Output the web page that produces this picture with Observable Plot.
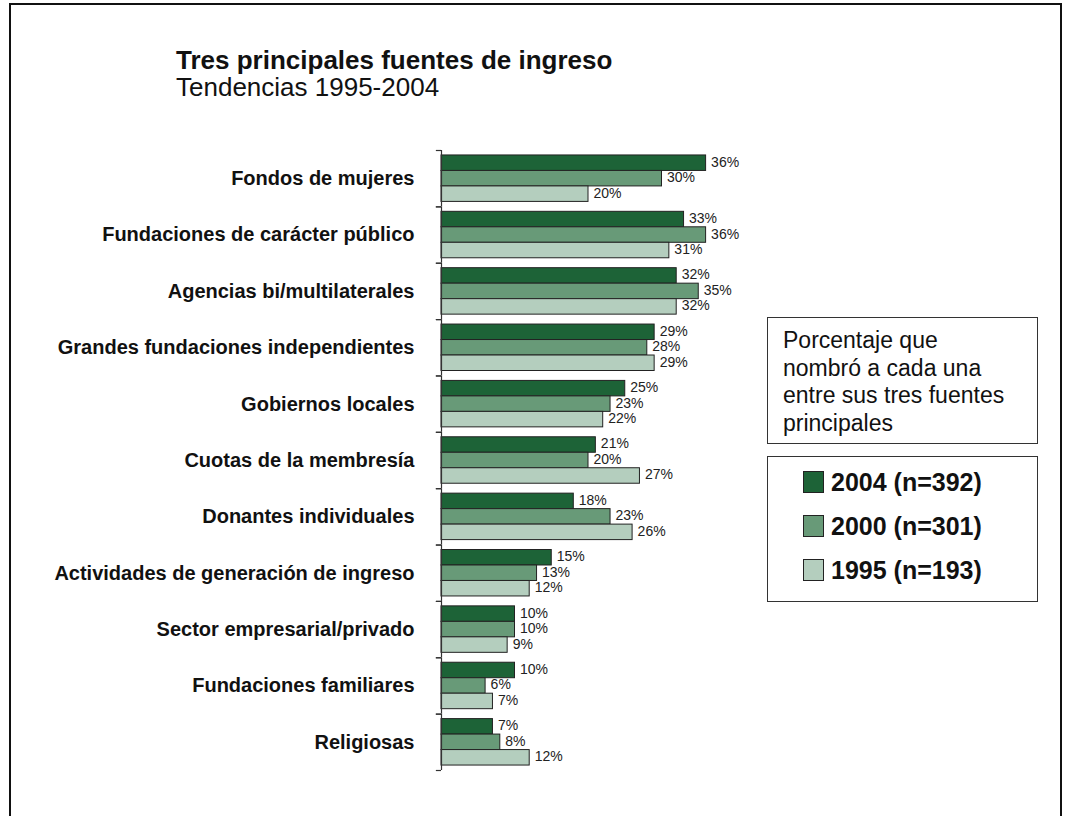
<!DOCTYPE html>
<html>
<head>
<meta charset="utf-8">
<script src="https://cdn.jsdelivr.net/npm/d3@7"></script>
<script src="https://cdn.jsdelivr.net/npm/@observablehq/plot@0.6"></script>
<style>
  body { margin: 0; background: #fff; font-family: "Liberation Sans", Arial, sans-serif; color: #111; }
  #page { position: relative; width: 1068px; height: 816px; overflow: hidden; background: #fff; }
  #frame { position: absolute; left: 9px; top: 3px; width: 1053px; height: 850px; border: 2px solid #111; box-sizing: border-box; }
  #chart { position: absolute; left: 0; top: 0; }
  #title { position: absolute; left: 176px; top: 47px; font-size: 26px; line-height: 27px; white-space: nowrap; }
  #title .t { font-weight: bold; }
  #note { position: absolute; left: 767px; top: 317px; width: 271px; height: 127px; box-sizing: border-box;
          border: 1px solid #333; padding: 9px 0 0 15px; font-size: 23px; line-height: 27.5px; }
  #legend { position: absolute; left: 767px; top: 456px; width: 271px; height: 146px; box-sizing: border-box;
            border: 1px solid #333; padding: 3px 0 0 35px; }
  .row { display: flex; align-items: center; height: 44px; font-size: 25px; font-weight: bold; white-space: nowrap; }
  .sw { width: 19px; height: 20px; border: 1px solid #222; margin-right: 7px; flex: none; }
</style>
</head>
<body>
<div id="page">
  <div id="chart"></div>
  <div id="frame"></div>
  <div id="title"><div class="t">Tres principales fuentes de ingreso</div><div>Tendencias 1995-2004</div></div>
  <div id="note">Porcentaje que<br>nombró a cada una<br>entre sus tres fuentes<br>principales</div>
  <div id="legend"></div>
</div>
<script>
const categories = [
  "Fondos de mujeres",
  "Fundaciones de carácter público",
  "Agencias bi/multilaterales",
  "Grandes fundaciones independientes",
  "Gobiernos locales",
  "Cuotas de la membresía",
  "Donantes individuales",
  "Actividades de generación de ingreso",
  "Sector empresarial/privado",
  "Fundaciones familiares",
  "Religiosas"
];
const years = ["2004", "2000", "1995"];
const sampleSizes = ["n=392", "n=301", "n=193"];
const values2004 = [36, 33, 32, 29, 25, 21, 18, 15, 10, 10, 7];
const values2000 = [30, 36, 35, 28, 23, 20, 23, 13, 10, 6, 8];
const values1995 = [20, 31, 32, 29, 22, 27, 26, 12, 9, 7, 12];
const colors = ["#1d6337", "#689a78", "#b4cebe"];

const seriesValues = [values2004, values2000, values1995];
const data = categories.flatMap((c, i) =>
  years.map((y, j) => ({category: c, year: y, value: seriesValues[j][i]}))
);

const plot = Plot.plot({
  width: 760,
  height: 790,
  marginLeft: 441,
  marginRight: 25,
  marginTop: 150,
  marginBottom: 20,
  style: {fontFamily: "'Liberation Sans', Arial, sans-serif", background: "transparent", color: "#111"},
  x: {domain: [0, 40], axis: null},
  y: {domain: years, axis: null, paddingInner: 0, paddingOuter: 0.32, round: false},
  fy: {domain: categories, paddingInner: 0, paddingOuter: 0, round: false, label: null},
  color: {domain: years, range: colors},
  marks: [
    Plot.axisFy({anchor: "left", tickSize: 0, tickPadding: 27, fontSize: 20, fontWeight: "bold", fill: "#111", label: null}),
    Plot.barX(data, {fy: "category", y: "year", x: "value", fill: "year", stroke: "#222", strokeWidth: 1}),
    Plot.text(data, {fy: "category", y: "year", x: "value", text: d => d.value + "%", dx: 5, dy: -1,
                     textAnchor: "start", fontSize: 14, fill: "#222"}),
    Plot.ruleX([0], {stroke: "#333", strokeWidth: 1.2}),
    Plot.ruleY(["2004"], {x1: -0.7, x2: 0, dy: -12.7, stroke: "#333", strokeWidth: 1.2}),
    Plot.ruleY(["1995"], {x1: -0.7, x2: 0, dy: 12.7, stroke: "#333", strokeWidth: 1.2})
  ]
});
document.getElementById("chart").appendChild(plot);

const legend = document.getElementById("legend");
years.forEach((y, j) => {
  const row = document.createElement("div");
  row.className = "row";
  const sw = document.createElement("span");
  sw.className = "sw";
  sw.style.background = colors[j];
  row.appendChild(sw);
  row.appendChild(document.createTextNode(`${y} (${sampleSizes[j]})`));
  legend.appendChild(row);
});
</script>
</body>
</html>
